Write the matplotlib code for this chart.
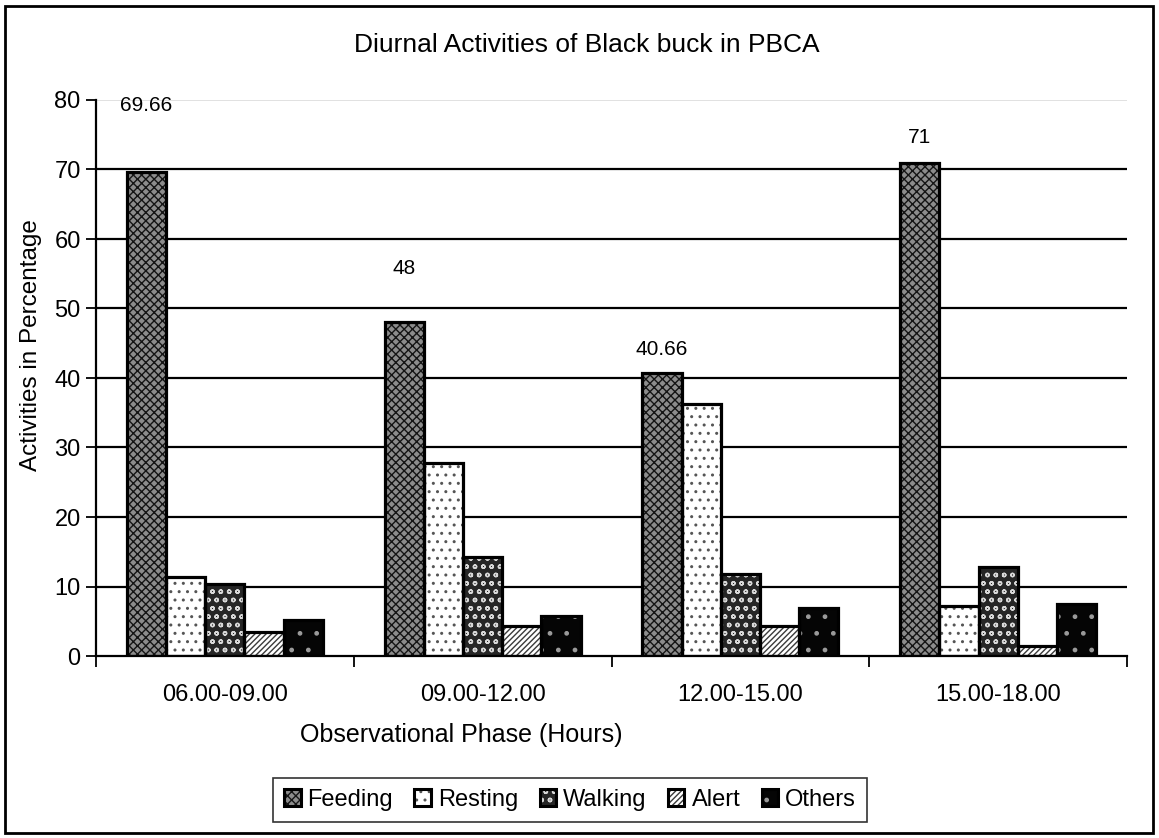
import matplotlib
matplotlib.use("Agg")
import matplotlib.pyplot as plt
import numpy as np
from matplotlib.patches import Rectangle, Patch
from matplotlib.legend_handler import HandlerTuple

plt.rcParams["font.family"] = ["Liberation Sans", "DejaVu Sans"]
plt.rcParams["hatch.linewidth"] = 1.0

# Observation windows and activity shares (%)
phases = ["06.00-09.00", "09.00-12.00", "12.00-15.00", "15.00-18.00"]
activities = ["Feeding", "Resting", "Walking", "Alert", "Others"]
feeding = [69.66, 48, 40.66, 71]
resting = [11.33, 27.7, 36.2, 7.2]
walking = [10.4, 14.3, 11.8, 12.8]
alert = [3.5, 4.3, 4.3, 1.5]
others = [5.2, 5.7, 6.85, 7.45]
y_ticks = [0, 10, 20, 30, 40, 50, 60, 70, 80]

series = [feeding, resting, walking, alert, others]

# fill colour, hatch pattern, hatch colour per activity
styles = [
    ("#8c8c8c", "xxxx", "#151515"),
    ("#ffffff", "..", "#555555"),
    ("#262626", "oo", "#d8d8d8"),
    ("#ffffff", "//////", "#3a3a3a"),
    ("#050505", ".", "#9a9a9a"),
]

fig = plt.figure(figsize=(11.59, 8.38), dpi=100)
ax = fig.add_axes([96 / 1159, 1 - 656 / 838, 1031 / 1159, 556 / 838])

x = np.arange(len(phases))
width = 0.152
handles = []
for i, (vals, (fc, hatch, hc)) in enumerate(zip(series, styles)):
    pos = x + (i - 2) * width
    ax.bar(pos, vals, width, color=fc, hatch=hatch, edgecolor=hc,
           linewidth=0, zorder=3)
    ax.bar(pos, vals, width, fill=False, edgecolor="black",
           linewidth=2.3, zorder=4)
    handles.append((Patch(facecolor=fc, hatch=hatch, edgecolor=hc, linewidth=0),
                    Patch(fill=False, edgecolor="black", linewidth=2.2)))

# value labels above the feeding bars
label_offsets = [48, 39, 17, 18]
for xi, v, off in zip(x, feeding, label_offsets):
    txt = f"{v:g}"
    ax.annotate(txt, (xi - 2 * width, v), xytext=(0, off),
                textcoords="offset points", ha="center", va="center",
                fontsize=15, zorder=5)

ax.set_xlim(-0.5, len(phases) - 0.5)
ax.set_ylim(0, 80)
ax.set_yticks(y_ticks)
ax.set_yticklabels([str(t) for t in y_ticks], fontsize=17)
ax.set_xticks(x)
ax.set_xticklabels(phases, fontsize=17)
ax.tick_params(axis="x", length=0, pad=20)
ax.set_xticks(np.arange(len(phases) + 1) - 0.5, minor=True)
ax.tick_params(axis="x", which="minor", length=8, width=1.3, direction="out")
ax.tick_params(axis="y", length=7, width=1.3, direction="out", pad=4)

for t in y_ticks[1:-1]:
    ax.axhline(t, color="black", linewidth=1.6, zorder=1)
ax.axhline(80, color="#dcdcdc", linewidth=1.2, zorder=1)

for s in ["top", "right"]:
    ax.spines[s].set_visible(False)
for s in ["left", "bottom"]:
    ax.spines[s].set_linewidth(1.6)
    ax.spines[s].set_zorder(6)

fig.text(587 / 1159, 1 - 45 / 838, "Diurnal Activities of Black buck in PBCA",
         ha="center", va="center", fontsize=19)
fig.text(31 / 1159, 1 - 345 / 838, "Activities in Percentage", rotation=90,
         ha="center", va="center", fontsize=17.5)
fig.text(461 / 1159, 1 - 735 / 838, "Observational Phase (Hours)",
         ha="center", va="center", fontsize=18)

leg = fig.legend(handles, activities, loc="center",
                 bbox_to_anchor=(570 / 1159, 1 - 800 / 838),
                 ncol=5, fontsize=17, frameon=True, fancybox=False,
                 edgecolor="black", handlelength=0.7, handleheight=0.7,
                 handletextpad=0.3, columnspacing=0.9, borderpad=0.45,
                 handler_map={tuple: HandlerTuple(ndivide=1)})
leg.get_frame().set_linewidth(1.2)

# outer chart border
fig.add_artist(Rectangle((5 / 1159, 5 / 838), 1148 / 1159, 827 / 838,
                         transform=fig.transFigure, fill=False,
                         edgecolor="black", linewidth=2))

fig.savefig("out.png", dpi=100)
